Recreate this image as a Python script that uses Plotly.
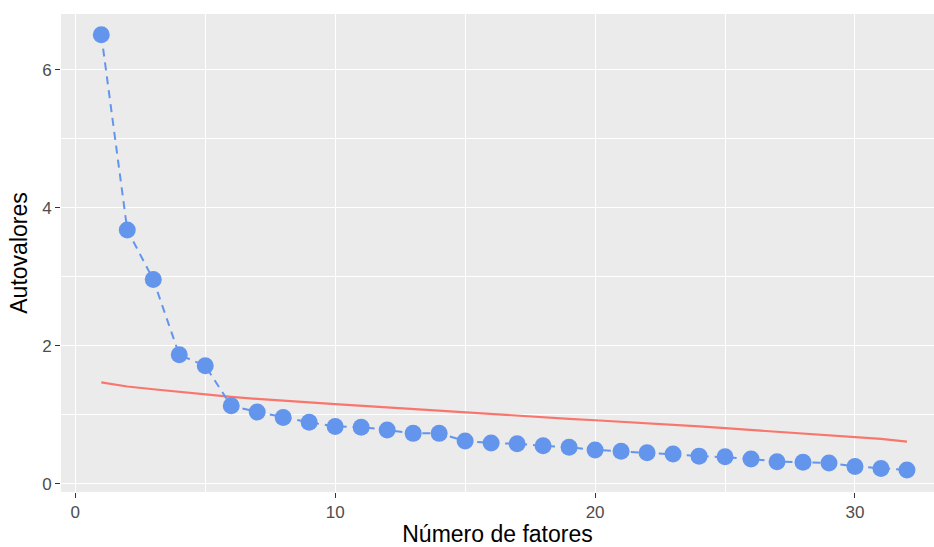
import plotly.graph_objects as go

# Scree plot: observed eigenvalues vs. the simulated (parallel analysis) reference line
fatores = list(range(1, 33))
autovalores = [6.51, 3.68, 2.96, 1.87, 1.71, 1.13, 1.04, 0.96, 0.89, 0.83,
               0.82, 0.78, 0.73, 0.73, 0.62, 0.59, 0.58, 0.55, 0.53, 0.49,
               0.47, 0.45, 0.43, 0.40, 0.39, 0.36, 0.32, 0.31, 0.30, 0.25,
               0.22, 0.20]
simulados = [1.47, 1.41, 1.37, 1.33, 1.29, 1.26, 1.23, 1.21, 1.18, 1.155,
             1.13, 1.11, 1.08, 1.06, 1.03, 1.01, 0.98, 0.96, 0.94, 0.92,
             0.90, 0.88, 0.855, 0.83, 0.805, 0.78, 0.755, 0.73, 0.705, 0.68,
             0.65, 0.61]
x_ticks = [0, 10, 20, 30]
y_ticks = [0, 2, 4, 6]

FONT = "Liberation Sans, Arial, sans-serif"

fig = go.Figure()
fig.add_trace(go.Scatter(
    x=fatores, y=simulados, mode="lines",
    line=dict(color="#F8766D", width=2.2),
    hoverinfo="skip", showlegend=False,
))
fig.add_trace(go.Scatter(
    x=fatores, y=autovalores, mode="lines+markers",
    line=dict(color="#6495ED", width=2, dash="8px,6px"),
    marker=dict(color="#6495ED", size=17, line=dict(width=0)),
    showlegend=False,
))

axis_common = dict(
    showgrid=True, gridcolor="#FFFFFF", gridwidth=1.3,
    zeroline=False, showline=False,
    ticks="outside", ticklen=5, tickwidth=1.1, tickcolor="#333333",
    tickfont=dict(family=FONT, size=17, color="#4D4D4D"),
)

fig.update_xaxes(
    range=[-0.55, 33.04], tickmode="array", tickvals=x_ticks,
    minor=dict(tickmode="array", tickvals=[5, 15, 25],
               showgrid=True, gridcolor="#FFFFFF", gridwidth=0.6, ticks=""),
    title=dict(text="Número de fatores", standoff=6,
               font=dict(family=FONT, size=23, color="#000000")),
    **axis_common,
)
fig.update_yaxes(
    range=[-0.12, 6.81], tickmode="array", tickvals=y_ticks,
    minor=dict(tickmode="array", tickvals=[1, 3, 5],
               showgrid=True, gridcolor="#FFFFFF", gridwidth=0.6, ticks=""),
    title=dict(text="Autovalores", standoff=8,
               font=dict(family=FONT, size=23, color="#000000")),
    **axis_common,
)

fig.update_layout(
    width=934, height=547,
    margin=dict(l=61, r=0, t=14, b=55),
    plot_bgcolor="#EBEBEB", paper_bgcolor="#FFFFFF",
    font=dict(family=FONT),
)

fig.write_html("out.html")
